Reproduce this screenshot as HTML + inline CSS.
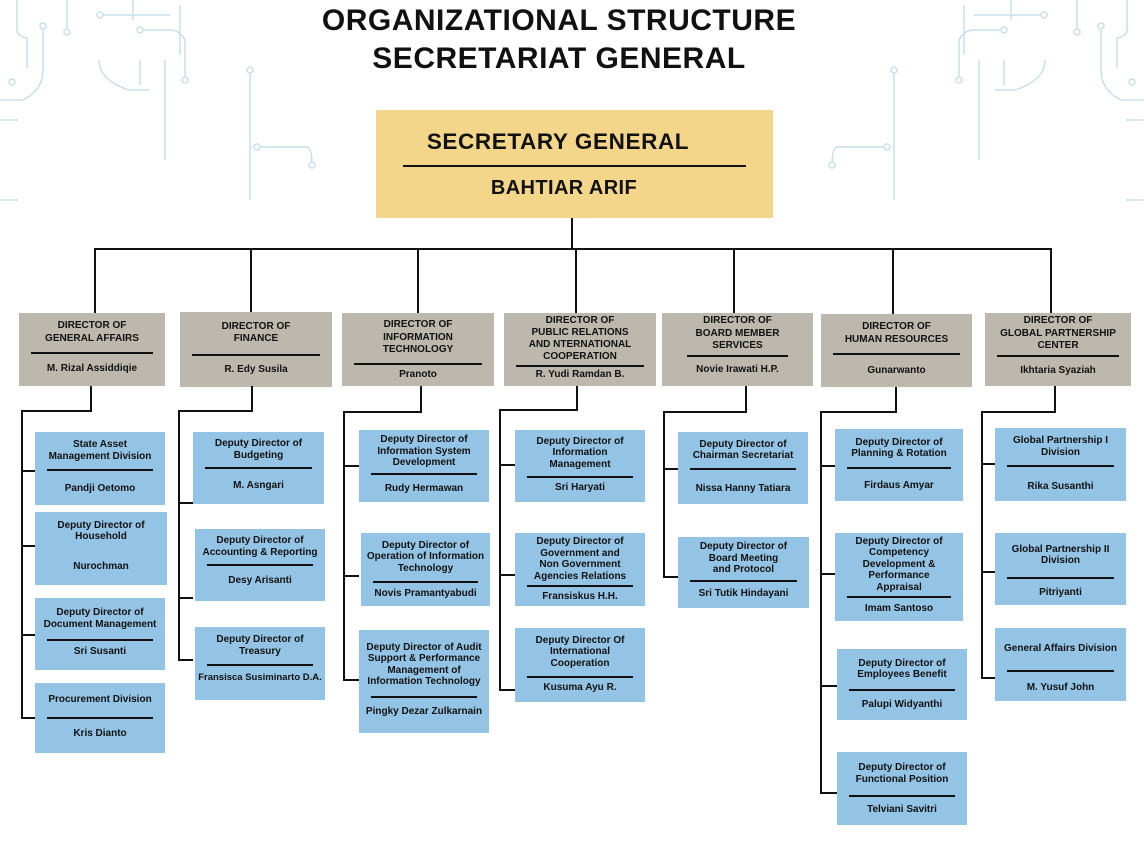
<!DOCTYPE html>
<html><head><meta charset="utf-8"><style>
body{margin:0;width:1144px;height:843px;background:#fff;position:relative;overflow:hidden;font-family:"Liberation Sans",sans-serif;font-weight:bold;color:#111}
.a{position:absolute}
.h{position:absolute;background:#111}
.b{position:absolute;background:#93c4e5;font-size:10px;text-align:center;line-height:11.5px}
.d{position:absolute;background:#bdb8ad;font-size:10px;text-align:center;line-height:12.5px}
.t,.n{display:flex;align-items:center;justify-content:center}
.l{height:2px;background:#111;margin:0 12px}
.ttl{position:absolute;left:0;width:1144px;text-align:center;font-size:30px;letter-spacing:0.5px}
</style></head><body>
<svg class="a" style="left:0;top:0" width="1144" height="220" fill="none" stroke="#c9e0ea" stroke-width="1.5">
<path d="M17 0v30q0 6 10 8v30M67 0v32M43 30v40q0 20-20 30H0M133 0v20M100 15h70M140 30h30q10 0 15 10v40M99 60q0 20 30 30h20M165 60v100M250 70v130M257 147h50q5 0 5 20M140 60v25M180 5v50M0 120h18M0 200h18"/>
<path d="M1127 0v30q0 6-10 8v30M1077 0v32M1101 30v40q0 20 20 30h23M1011 0v20M1044 15h-70M1004 30h-30q-10 0-15 10v40M1045 60q0 20-30 30h-20M979 60v100M894 70v130M887 147h-50q-5 0-5 20M1004 60v25M964 5v50M1144 120h-18M1144 200h-18"/>
<g fill="#fff"><circle cx="67" cy="32" r="3"/><circle cx="43" cy="26" r="3"/><circle cx="12" cy="82" r="3"/><circle cx="100" cy="15" r="3"/><circle cx="140" cy="30" r="3"/><circle cx="185" cy="80" r="3"/><circle cx="250" cy="70" r="3"/><circle cx="257" cy="147" r="3"/><circle cx="312" cy="165" r="3"/><circle cx="1077" cy="32" r="3"/><circle cx="1101" cy="26" r="3"/><circle cx="1132" cy="82" r="3"/><circle cx="1044" cy="15" r="3"/><circle cx="1004" cy="30" r="3"/><circle cx="959" cy="80" r="3"/><circle cx="894" cy="70" r="3"/><circle cx="887" cy="147" r="3"/><circle cx="832" cy="165" r="3"/></g>
</svg>
<div class="ttl" style="top:4px;left:-13px">ORGANIZATIONAL STRUCTURE</div>
<div class="ttl" style="top:42px;left:-13px">SECRETARIAT GENERAL</div>

<div class="a" style="left:376px;top:110px;width:397px;height:108px;background:#f4d68b"></div>
<div class="a" style="left:376px;top:129px;width:364px;text-align:center;font-size:22.5px;letter-spacing:0.6px">SECRETARY GENERAL</div>
<div class="h" style="left:403px;top:165px;width:343px;height:2px"></div>
<div class="a" style="left:376px;top:177px;width:376px;text-align:center;font-size:20px;letter-spacing:0.4px">BAHTIAR ARIF</div>

<div class="h" style="left:571px;top:218px;width:2px;height:32px"></div>
<div class="h" style="left:94px;top:248px;width:958px;height:2px"></div>
<div class="h" style="left:94px;top:248px;width:2px;height:66px"></div>
<div class="h" style="left:250px;top:248px;width:2px;height:66px"></div>
<div class="h" style="left:417px;top:248px;width:2px;height:66px"></div>
<div class="h" style="left:575px;top:248px;width:2px;height:66px"></div>
<div class="h" style="left:733px;top:248px;width:2px;height:66px"></div>
<div class="h" style="left:892px;top:248px;width:2px;height:66px"></div>
<div class="h" style="left:1050px;top:248px;width:2px;height:66px"></div>

<div class="d" style="left:19px;top:313px;width:146px;height:73px"><div class="t" style="height:39px">DIRECTOR OF<br>GENERAL AFFAIRS</div><div class="l"></div><div class="n" style="height:30px">M. Rizal Assiddiqie</div></div>
<div class="d" style="left:180px;top:312px;width:152px;height:75px"><div class="t" style="height:42px">DIRECTOR OF<br>FINANCE</div><div class="l"></div><div class="n" style="height:28px">R. Edy Susila</div></div>
<div class="d" style="left:342px;top:313px;width:152px;height:73px"><div class="t" style="height:50px">DIRECTOR OF<br>INFORMATION<br>TECHNOLOGY</div><div class="l"></div><div class="n" style="height:20px">Pranoto</div></div>
<div class="d" style="left:504px;top:313px;width:152px;height:73px"><div class="t" style="height:52px;line-height:12px">DIRECTOR OF<br>PUBLIC RELATIONS<br>AND NTERNATIONAL<br>COOPERATION</div><div class="l"></div><div class="n" style="height:16px">R. Yudi Ramdan B.</div></div>
<div class="d" style="left:662px;top:313px;width:151px;height:73px"><div class="t" style="height:42px">DIRECTOR OF<br>BOARD MEMBER<br>SERVICES</div><div class="l" style="margin:0 25px"></div><div class="n" style="height:26px">Novie Irawati H.P.</div></div>
<div class="d" style="left:821px;top:314px;width:151px;height:73px"><div class="t" style="height:39px">DIRECTOR OF<br>HUMAN RESOURCES</div><div class="l"></div><div class="n" style="height:32px">Gunarwanto</div></div>
<div class="d" style="left:985px;top:313px;width:146px;height:73px"><div class="t" style="height:42px">DIRECTOR OF<br>GLOBAL PARTNERSHIP<br>CENTER</div><div class="l"></div><div class="n" style="height:28px">Ikhtaria Syaziah</div></div>

<!-- col1 connectors -->
<div class="h" style="left:90px;top:386px;width:2px;height:26px"></div>
<div class="h" style="left:21px;top:410px;width:71px;height:2px"></div>
<div class="h" style="left:21px;top:410px;width:2px;height:309px"></div>
<div class="h" style="left:21px;top:470px;width:14px;height:2px"></div>
<div class="h" style="left:21px;top:545px;width:14px;height:2px"></div>
<div class="h" style="left:21px;top:634px;width:14px;height:2px"></div>
<div class="h" style="left:21px;top:717px;width:14px;height:2px"></div>
<div class="b" style="left:35px;top:432px;width:130px;height:73px"><div class="t" style="height:37px">State Asset<br>Management Division</div><div class="l"></div><div class="n" style="height:36px">Pandji Oetomo</div></div>
<div class="b" style="left:35px;top:512px;width:132px;height:73px"><div class="t" style="height:38px">Deputy Director of<br>Household</div><div class="n" style="height:33px">Nurochman</div></div>
<div class="b" style="left:35px;top:598px;width:130px;height:72px"><div class="t" style="height:41px">Deputy Director of<br>Document Management</div><div class="l"></div><div class="n" style="height:22px">Sri Susanti</div></div>
<div class="b" style="left:35px;top:683px;width:130px;height:70px"><div class="t" style="height:34px">Procurement Division</div><div class="l"></div><div class="n" style="height:30px">Kris Dianto</div></div>

<!-- col2 -->
<div class="h" style="left:251px;top:386px;width:2px;height:25px"></div>
<div class="h" style="left:178px;top:410px;width:75px;height:2px"></div>
<div class="h" style="left:178px;top:410px;width:2px;height:251px"></div>
<div class="h" style="left:178px;top:502px;width:15px;height:2px"></div>
<div class="h" style="left:178px;top:597px;width:15px;height:2px"></div>
<div class="h" style="left:178px;top:659px;width:15px;height:2px"></div>
<div class="b" style="left:193px;top:432px;width:131px;height:72px"><div class="t" style="height:35px">Deputy Director of<br>Budgeting</div><div class="l"></div><div class="n" style="height:34px">M. Asngari</div></div>
<div class="b" style="left:195px;top:529px;width:130px;height:72px"><div class="t" style="height:35px">Deputy Director of<br>Accounting &amp; Reporting</div><div class="l"></div><div class="n" style="height:30px">Desy Arisanti</div></div>
<div class="b" style="left:195px;top:627px;width:130px;height:73px"><div class="t" style="height:37px">Deputy Director of<br>Treasury</div><div class="l"></div><div class="n" style="height:24px;font-size:9.5px">Fransisca Susiminarto D.A.</div></div>

<!-- col3 -->
<div class="h" style="left:420px;top:386px;width:2px;height:27px"></div>
<div class="h" style="left:343px;top:411px;width:79px;height:2px"></div>
<div class="h" style="left:343px;top:411px;width:2px;height:270px"></div>
<div class="h" style="left:343px;top:465px;width:16px;height:2px"></div>
<div class="h" style="left:343px;top:575px;width:16px;height:2px"></div>
<div class="h" style="left:343px;top:679px;width:16px;height:2px"></div>
<div class="b" style="left:359px;top:430px;width:130px;height:72px"><div class="t" style="height:43px">Deputy Director of<br>Information System<br>Development</div><div class="l"></div><div class="n" style="height:28px">Rudy Hermawan</div></div>
<div class="b" style="left:361px;top:533px;width:129px;height:73px"><div class="t" style="height:48px">Deputy Director of<br>Operation of Information<br>Technology</div><div class="l"></div><div class="n" style="height:22px">Novis Pramantyabudi</div></div>
<div class="b" style="left:359px;top:630px;width:130px;height:103px"><div class="t" style="height:66px;padding-top:3px;box-sizing:border-box">Deputy Director of Audit<br>Support &amp; Performance<br>Management of<br>Information Technology</div><div class="l"></div><div class="n" style="height:28px">Pingky Dezar Zulkarnain</div></div>

<!-- col4 -->
<div class="h" style="left:576px;top:386px;width:2px;height:25px"></div>
<div class="h" style="left:499px;top:409px;width:79px;height:2px"></div>
<div class="h" style="left:499px;top:409px;width:2px;height:282px"></div>
<div class="h" style="left:499px;top:464px;width:16px;height:2px"></div>
<div class="h" style="left:499px;top:574px;width:16px;height:2px"></div>
<div class="h" style="left:499px;top:689px;width:16px;height:2px"></div>
<div class="b" style="left:515px;top:430px;width:130px;height:72px"><div class="t" style="height:46px">Deputy Director of<br>Information<br>Management</div><div class="l"></div><div class="n" style="height:20px">Sri Haryati</div></div>
<div class="b" style="left:515px;top:533px;width:130px;height:73px"><div class="t" style="height:52px;line-height:11.5px">Deputy Director of<br>Government and<br>Non Government<br>Agencies Relations</div><div class="l"></div><div class="n" style="height:20px">Fransiskus H.H.</div></div>
<div class="b" style="left:515px;top:628px;width:130px;height:74px"><div class="t" style="height:48px">Deputy Director Of<br>International<br>Cooperation</div><div class="l"></div><div class="n" style="height:20px">Kusuma Ayu R.</div></div>

<!-- col5 -->
<div class="h" style="left:745px;top:386px;width:2px;height:26px"></div>
<div class="h" style="left:663px;top:411px;width:84px;height:2px"></div>
<div class="h" style="left:663px;top:411px;width:2px;height:167px"></div>
<div class="h" style="left:663px;top:468px;width:15px;height:2px"></div>
<div class="h" style="left:663px;top:576px;width:15px;height:2px"></div>
<div class="b" style="left:678px;top:432px;width:130px;height:72px"><div class="t" style="height:36px">Deputy Director of<br>Chairman Secretariat</div><div class="l"></div><div class="n" style="height:38px">Nissa Hanny Tatiara</div></div>
<div class="b" style="left:678px;top:537px;width:131px;height:71px"><div class="t" style="height:43px">Deputy Director of<br>Board Meeting<br>and Protocol</div><div class="l"></div><div class="n" style="height:24px">Sri Tutik Hindayani</div></div>

<!-- col6 -->
<div class="h" style="left:895px;top:387px;width:2px;height:25px"></div>
<div class="h" style="left:820px;top:411px;width:77px;height:2px"></div>
<div class="h" style="left:820px;top:411px;width:2px;height:383px"></div>
<div class="h" style="left:820px;top:465px;width:15px;height:2px"></div>
<div class="h" style="left:820px;top:573px;width:15px;height:2px"></div>
<div class="h" style="left:820px;top:685px;width:17px;height:2px"></div>
<div class="h" style="left:820px;top:792px;width:17px;height:2px"></div>
<div class="b" style="left:835px;top:429px;width:128px;height:72px"><div class="t" style="height:38px">Deputy Director of<br>Planning &amp; Rotation</div><div class="l"></div><div class="n" style="height:34px">Firdaus Amyar</div></div>
<div class="b" style="left:835px;top:533px;width:128px;height:88px"><div class="t" style="height:63px;line-height:11.5px">Deputy Director of<br>Competency<br>Development &amp;<br>Performance<br>Appraisal</div><div class="l"></div><div class="n" style="height:22px">Imam Santoso</div></div>
<div class="b" style="left:837px;top:649px;width:130px;height:71px"><div class="t" style="height:40px">Deputy Director of<br>Employees Benefit</div><div class="l"></div><div class="n" style="height:28px">Palupi Widyanthi</div></div>
<div class="b" style="left:837px;top:752px;width:130px;height:73px"><div class="t" style="height:43px">Deputy Director of<br>Functional Position</div><div class="l"></div><div class="n" style="height:26px">Telviani Savitri</div></div>

<!-- col7 -->
<div class="h" style="left:1054px;top:386px;width:2px;height:26px"></div>
<div class="h" style="left:981px;top:411px;width:75px;height:2px"></div>
<div class="h" style="left:981px;top:411px;width:2px;height:268px"></div>
<div class="h" style="left:981px;top:463px;width:14px;height:2px"></div>
<div class="h" style="left:981px;top:571px;width:14px;height:2px"></div>
<div class="h" style="left:981px;top:677px;width:14px;height:2px"></div>
<div class="b" style="left:995px;top:428px;width:131px;height:73px"><div class="t" style="height:37px">Global Partnership I<br>Division</div><div class="l"></div><div class="n" style="height:40px">Rika Susanthi</div></div>
<div class="b" style="left:995px;top:533px;width:131px;height:72px"><div class="t" style="height:44px">Global Partnership II<br>Division</div><div class="l"></div><div class="n" style="height:28px">Pitriyanti</div></div>
<div class="b" style="left:995px;top:628px;width:131px;height:73px"><div class="t" style="height:42px">General Affairs Division</div><div class="l"></div><div class="n" style="height:32px">M. Yusuf John</div></div>
</body></html>
